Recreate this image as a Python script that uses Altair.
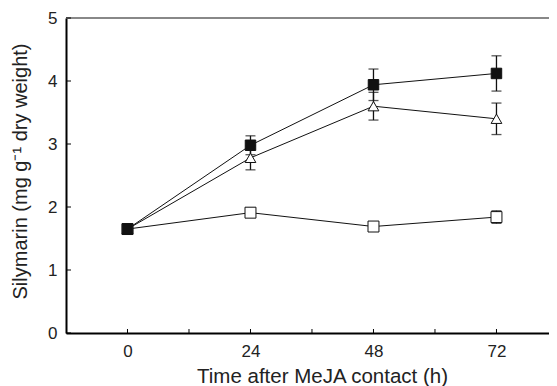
import altair as alt
import pandas as pd

hours = [0, 24, 48, 72]
series_names = ["filled", "triangle", "open"]
filled_vals = [1.65, 2.98, 3.94, 4.12]
filled_err = [0.05, 0.15, 0.25, 0.28]
tri_vals = [1.65, 2.78, 3.60, 3.40]
tri_err = [0.05, 0.19, 0.22, 0.25]
open_vals = [1.65, 1.91, 1.69, 1.84]
open_err = [0.05, 0.07, 0.03, 0.10]

x_ticks = [0, 12, 24, 36, 48, 60, 72]
x_labels = [0, 24, 48, 72]
y_ticks = [0, 1, 2, 3, 4, 5]

rows = []
order = {"open": 0, "triangle": 1, "filled": 2}
for name, vals, errs in [("open", open_vals, open_err),
                         ("triangle", tri_vals, tri_err),
                         ("filled", filled_vals, filled_err)]:
    for h, v, e in zip(hours, vals, errs):
        rows.append({"series": name, "h": h, "v": v, "lo": v - e, "hi": v + e,
                     "ord": order[name]})
df = pd.DataFrame(rows)

W, H = 483, 315
FONT = "Liberation Sans"
# the full axis would run to 84 h, but the window cuts the frame at about 82 h
xs = alt.Scale(domain=[-12, 82.25], nice=False, zero=False)
ys = alt.Scale(domain=[0, 5], nice=False)

xax = alt.Axis(values=x_labels, ticks=False, grid=False, domainColor="black",
               domainWidth=2, labelFontSize=17, labelPadding=10, labelColor="#222222",
               titleFontSize=20.5, titleFontWeight="normal", titleColor="#222222",
               titlePadding=7, labelFont=FONT, titleFont=FONT, format="d",
               titleX=256)
yax = alt.Axis(values=y_ticks, ticks=False, grid=False, domainColor="black",
               domainWidth=2, labelFontSize=17, labelPadding=9, labelColor="#222222",
               titleFontSize=20, titleFontWeight="normal", titleColor="#222222",
               titlePadding=17, labelFont=FONT, titleFont=FONT, format="d",
               titleY=153)

base = alt.Chart(df)

lines = base.mark_line(color="#111111", strokeWidth=1).encode(
    x=alt.X("h:Q", scale=xs, axis=xax, title="Time after MeJA contact (h)"),
    y=alt.Y("v:Q", scale=ys, axis=yax, title="Silymarin (mg g⁻¹ dry weight)"),
    detail="series:N",
)

err = base.mark_rule(color="#111111", strokeWidth=1.3).encode(
    x="h:Q", y="lo:Q", y2="hi:Q"
)
caps_lo = base.mark_tick(color="#111111", orient="horizontal", size=10, thickness=1.3).encode(
    x="h:Q", y="lo:Q"
)
caps_hi = base.mark_tick(color="#111111", orient="horizontal", size=10, thickness=1.3).encode(
    x="h:Q", y="hi:Q"
)

pts = base.mark_point(strokeWidth=1, opacity=1).encode(
    x="h:Q",
    y="v:Q",
    shape=alt.Shape("series:N",
                    scale=alt.Scale(domain=series_names,
                                    range=["square", "triangle-up", "square"]),
                    legend=None),
    fill=alt.Fill("series:N",
                  scale=alt.Scale(domain=series_names,
                                  range=["#111111", "white", "white"]),
                  legend=None),
    stroke=alt.value("#111111"),
    size=alt.Size("series:N",
                  scale=alt.Scale(domain=series_names, range=[110, 120, 95]),
                  legend=None),
    order=alt.Order("ord:Q"),
)

tick_df = pd.DataFrame({"t": x_ticks})
xticks = alt.Chart(tick_df).mark_rule(color="black", strokeWidth=1).encode(
    x=alt.X("t:Q", scale=xs), y=alt.value(H), y2=alt.value(H - 4)
)
ytick_df = pd.DataFrame({"t": y_ticks})
yticks = alt.Chart(ytick_df).mark_rule(color="black", strokeWidth=1).encode(
    y=alt.Y("t:Q", scale=ys), x=alt.value(0), x2=alt.value(5)
)
top = alt.Chart(tick_df).mark_rule(color="#888888", strokeWidth=1.5).encode(
    x=alt.value(0), x2=alt.value(W), y=alt.value(0)
)

chart = alt.layer(top, xticks, yticks, lines, err, caps_lo, caps_hi, pts).properties(
    width=W, height=H,
    autosize=alt.AutoSizeParams(type="none"),
    padding={"left": 58, "top": 10, "right": 0, "bottom": 60},
).configure_view(stroke=None).configure(background="white")

chart.save("out.html", embed_options={"renderer": "svg", "actions": False})
